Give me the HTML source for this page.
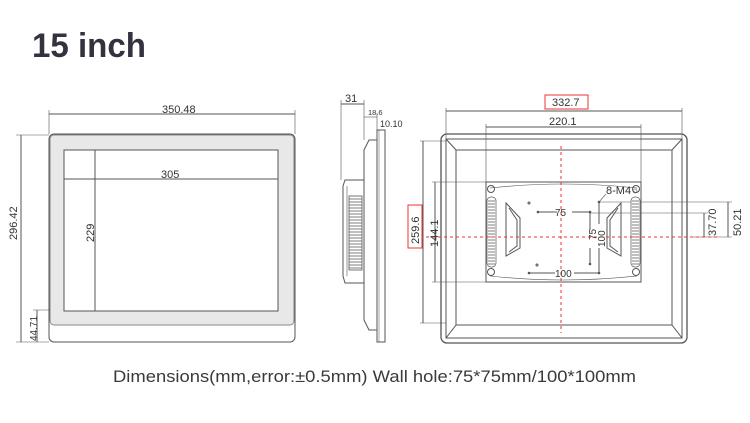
<!DOCTYPE html>
<html><head><meta charset="utf-8"><style>
html,body{margin:0;padding:0;background:#fff;width:750px;height:423px;overflow:hidden}
svg{display:block}
text{font-family:"Liberation Sans",sans-serif;fill:#333}
</style></head><body>
<svg width="750" height="423" viewBox="0 0 750 423" xmlns="http://www.w3.org/2000/svg">
<text x="32" y="57" font-size="34" font-weight="bold" textLength="114" lengthAdjust="spacingAndGlyphs" style="fill:#33323f">15 inch</text>

<!-- FRONT VIEW -->
<g stroke="#555" fill="none" stroke-width="1">
<rect x="49" y="134" width="246" height="208" rx="5" fill="#fff"/>
<rect x="50" y="135" width="244" height="190" rx="4" fill="#e8e8e8" stroke="#888"/>
<rect x="64" y="150" width="214" height="161" fill="#fff"/>
<line x1="49" y1="114" x2="295" y2="114"/>
<line x1="49" y1="110" x2="49" y2="134" stroke-width="0.6"/>
<line x1="295" y1="110" x2="295" y2="134" stroke-width="0.6"/>
<line x1="21" y1="135" x2="21" y2="342"/>
<line x1="16" y1="135" x2="49" y2="135" stroke-width="0.6"/>
<line x1="16" y1="342" x2="49" y2="342" stroke-width="0.6"/>
<line x1="64" y1="179" x2="278" y2="179"/>
<line x1="95" y1="150" x2="95" y2="311"/>
<line x1="37" y1="310" x2="37" y2="342"/>
<line x1="33" y1="310" x2="50" y2="310" stroke-width="0.6"/>
</g>
<text x="162" y="113" font-size="11">350.48</text>
<text x="161" y="178" font-size="11">305</text>
<text transform="translate(17,240) rotate(-90)" font-size="11">296.42</text>
<text transform="translate(94,242) rotate(-90)" font-size="11">229</text>
<text transform="translate(37,341) rotate(-90)" font-size="10">44.71</text>

<!-- SIDE VIEW -->
<g stroke="#555" fill="none" stroke-width="1">
<line x1="341" y1="104" x2="364" y2="104"/>
<line x1="341" y1="100" x2="341" y2="180" stroke-width="0.6"/>
<line x1="364" y1="100" x2="364" y2="140" stroke-width="0.6"/>
<line x1="364" y1="117" x2="377" y2="117" stroke-width="0.6"/>
<line x1="377" y1="113" x2="377" y2="130" stroke-width="0.6"/>
<rect x="377" y="130" width="8" height="212"/>
<rect x="379" y="130" width="6" height="212" stroke-width="0.5"/>
<path d="M377 140 L369 140 L364 150 L364 320 L369 330 L377 330"/>
<path d="M364 180 L345 180 L343 186 L343 276 L345 283 L364 283"/>
<line x1="347" y1="186" x2="347" y2="276" stroke-width="0.6"/>
</g>
<g stroke="#555" stroke-width="0.8">
<rect x="349" y="196" width="13" height="74" fill="#fff"/>
<path d="M349 199H362M349 202H362M349 205H362M349 208H362M349 211H362M349 214H362M349 217H362M349 220H362M349 223H362M349 226H362M349 229H362M349 232H362M349 235H362M349 238H362M349 241H362M349 244H362M349 247H362M349 250H362M349 253H362M349 256H362M349 259H362M349 262H362M349 265H362M349 268H362"/>
</g>
<text x="345" y="102" font-size="11">31</text>
<text x="368" y="115" font-size="7.5">18.6</text>
<text x="380" y="127" font-size="9">10.10</text>

<!-- BACK VIEW -->
<g stroke="#555" fill="none" stroke-width="1">
<rect x="441" y="134" width="246" height="209" rx="6" stroke-width="1.3"/>
<rect x="446" y="139" width="236" height="199"/>
<rect x="456" y="150" width="216" height="175"/>
<line x1="446" y1="139" x2="456" y2="150"/>
<line x1="682" y1="139" x2="672" y2="150"/>
<line x1="446" y1="338" x2="456" y2="325"/>
<line x1="682" y1="338" x2="672" y2="325"/>
<path d="M486 182 L641 182 L641 282 L486 282 Z"/>
<path d="M490 188 Q563 180 637 188 M490 276 Q563 284 637 276" stroke-width="0.6"/>
<line x1="446" y1="111" x2="682" y2="111"/>
<line x1="446" y1="108" x2="446" y2="139" stroke-width="0.6"/>
<line x1="682" y1="108" x2="682" y2="139" stroke-width="0.6"/>
<line x1="486" y1="127" x2="641" y2="127"/>
<line x1="486" y1="124" x2="486" y2="182" stroke-width="0.6"/>
<line x1="641" y1="124" x2="641" y2="182" stroke-width="0.6"/>
<line x1="423" y1="141" x2="423" y2="323"/>
<line x1="420" y1="141" x2="446" y2="141" stroke-width="0.6"/>
<line x1="420" y1="323" x2="446" y2="323" stroke-width="0.6"/>
<line x1="435" y1="182" x2="435" y2="282"/>
<line x1="432" y1="182" x2="486" y2="182" stroke-width="0.6"/>
<line x1="432" y1="282" x2="486" y2="282" stroke-width="0.6"/>
<line x1="704" y1="213" x2="704" y2="237"/>
<line x1="590" y1="213" x2="708" y2="213" stroke-width="0.6"/>
<line x1="728" y1="202" x2="728" y2="237"/>
<line x1="599" y1="202" x2="732" y2="202" stroke-width="0.6"/>
<line x1="690" y1="237" x2="732" y2="237" stroke-width="0.6"/>
<line x1="538" y1="212" x2="557" y2="212"/><line x1="572" y1="212" x2="590" y2="212"/>
<line x1="529" y1="273" x2="555" y2="273"/><line x1="574" y1="273" x2="599" y2="273"/>
<line x1="590" y1="212" x2="590" y2="230"/><line x1="590" y1="248" x2="590" y2="264"/>
<line x1="599" y1="202" x2="599" y2="224"/><line x1="599" y1="248" x2="599" y2="273"/>
<line x1="599" y1="202" x2="606" y2="194" stroke-width="0.6"/>
<path d="M506 203 L520 218 L520 248 L506 256 Z M509 208 L517 220 L517 246 L509 252"/>
<path d="M621 203 L607 218 L607 248 L621 256 Z M618 208 L610 220 L610 246 L618 252"/>
<circle cx="491" cy="189" r="3.5"/><circle cx="636" cy="189" r="3.5"/>
<circle cx="491" cy="272" r="3.5"/><circle cx="636" cy="272" r="3.5"/>
<circle cx="529" cy="203" r="1"/><circle cx="537" cy="265" r="1"/>
</g>
<g fill="#555">
<circle cx="538" cy="212" r="1.3"/><circle cx="590" cy="212" r="1.3"/><circle cx="590" cy="264" r="1.3"/>
<circle cx="529" cy="273" r="1.3"/><circle cx="599" cy="273" r="1.3"/><circle cx="599" cy="202" r="1.3"/>
</g>
<g stroke="#555" stroke-width="0.7" fill="#fff">
<rect x="487" y="197" width="9" height="70" rx="4"/>
<rect x="631" y="197" width="9" height="70" rx="4"/>
<path d="M488 201H495M488 204H495M488 207H495M488 210H495M488 213H495M488 216H495M488 219H495M488 222H495M488 225H495M488 228H495M488 231H495M488 234H495M488 237H495M488 240H495M488 243H495M488 246H495M488 249H495M488 252H495M488 255H495M488 258H495M488 261H495M488 264H495"/>
<path d="M632 201H639M632 204H639M632 207H639M632 210H639M632 213H639M632 216H639M632 219H639M632 222H639M632 225H639M632 228H639M632 231H639M632 234H639M632 237H639M632 240H639M632 243H639M632 246H639M632 249H639M632 252H639M632 255H639M632 258H639M632 261H639M632 264H639"/>
</g>
<g stroke="#e33" stroke-width="1" stroke-dasharray="3,3">
<line x1="408" y1="237" x2="720" y2="237"/>
<line x1="561" y1="146" x2="561" y2="333"/>
</g>
<rect x="545" y="95" width="43" height="14" fill="#fff" stroke="#e33"/>
<rect x="408" y="205" width="14" height="43" fill="#fff" stroke="#e33"/>
<text x="552" y="106" font-size="11">332.7</text>
<text x="549" y="125" font-size="11">220.1</text>
<text transform="translate(419,244) rotate(-90)" font-size="11">259.6</text>
<text transform="translate(438,247) rotate(-90)" font-size="11">144.1</text>
<text x="555" y="216" font-size="10">75</text>
<text x="555" y="277" font-size="10">100</text>
<text transform="translate(596,240) rotate(-90)" font-size="10">75</text>
<text transform="translate(605,247) rotate(-90)" font-size="10">100</text>
<text x="606" y="194" font-size="11">8-M4</text>
<circle cx="635" cy="191" r="2" fill="none" stroke="#555" stroke-width="0.6"/>
<text transform="translate(716,236) rotate(-90)" font-size="11">37.70</text>
<text transform="translate(741,236) rotate(-90)" font-size="11">50.21</text>

<text x="113" y="382" font-size="17" textLength="523" lengthAdjust="spacingAndGlyphs" style="fill:#3a3a3a">Dimensions(mm,error:±0.5mm)  Wall hole:75*75mm/100*100mm</text>
</svg>
</body></html>
